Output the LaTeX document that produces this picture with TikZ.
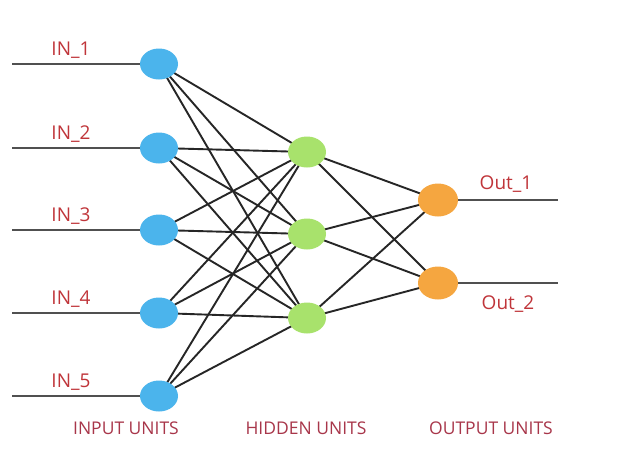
\documentclass[tikz,border=0pt]{standalone}
\usepackage{fontspec}
\setmainfont{Open Sans}
\usetikzlibrary{shapes.geometric}
\definecolor{inblue}{HTML}{4BB4EC}
\definecolor{hidgreen}{HTML}{A8E26C}
\definecolor{outorange}{HTML}{F5A640}
\definecolor{wirecol}{HTML}{262626}
\definecolor{leadcol}{HTML}{505050}
\definecolor{lblred}{HTML}{C0353A}
\definecolor{capred}{HTML}{A8364A}
\begin{document}
\begin{tikzpicture}[x=1pt,y=-1pt,
  unit/.style={ellipse, minimum width=38pt, minimum height=31pt, inner sep=0pt},
  inunit/.style={unit, fill=inblue},
  hidunit/.style={unit, fill=hidgreen},
  outunit/.style={unit, fill=outorange, minimum width=40pt, minimum height=33pt},
  wire/.style={draw=wirecol, line width=1.9pt},
  lead/.style={draw=leadcol, line width=2.2pt},
  lbl/.style={text=lblred, font=\fontsize{19}{21}\selectfont},
  layercap/.style={text=capred, font=\fontsize{17.5}{19}\selectfont}]
\fill[white] (0,0) rectangle (624,475);
\useasboundingbox (0,0) rectangle (624,475);

% input layer: lead start points and labels
\foreach \i/\y in {1/64,2/148,3/230,4/313,5/396}{
  \coordinate (s\i) at (12,\y);
  \coordinate (ip\i) at (159,\y);
  \node[lbl] (l\i) at (71,\y-14) {IN\_\i};
}
% hidden and output positions
\coordinate (h1p) at (307,152);
\coordinate (h2p) at (307,234);
\coordinate (h3p) at (307,318);
\coordinate (o1p) at (438,200);
\coordinate (o2p) at (438,283);

% connections input -> hidden
\foreach \i in {1,...,5}{
  \foreach \j in {1,2,3}{
    \draw[wire] (ip\i) -- (h\j p);
  }
}
% connections hidden -> output
\foreach \j in {1,2,3}{
  \foreach \k in {1,2}{
    \draw[wire] (h\j p) -- (o\k p);
  }
}
% leads
\foreach \i in {1,...,5}{
  \draw[lead] (s\i) -- (ip\i);
}
\coordinate (e1) at (558,200);
\coordinate (e2) at (558,283);
\draw[lead] (o1p) -- (e1);
\draw[lead] (o2p) -- (e2);

% units
\foreach \i in {1,...,5}{
  \node[inunit] (in\i) at (ip\i) {};
}
\foreach \j in {1,2,3}{
  \node[hidunit] (h\j) at (h\j p) {};
}
\node[outunit] (o1) at (o1p) {};
\node[outunit] (o2) at (o2p) {};

\node[lbl] (ol1) at (506,184) {Out\_1};
\node[lbl] (ol2) at (508,304) {Out\_2};

\node[layercap] (c1) at (126,428) {INPUT UNITS};
\node[layercap] (c2) at (306,428) {HIDDEN UNITS};
\node[layercap] (c3) at (491,428) {OUTPUT UNITS};
\end{tikzpicture}
\end{document}
